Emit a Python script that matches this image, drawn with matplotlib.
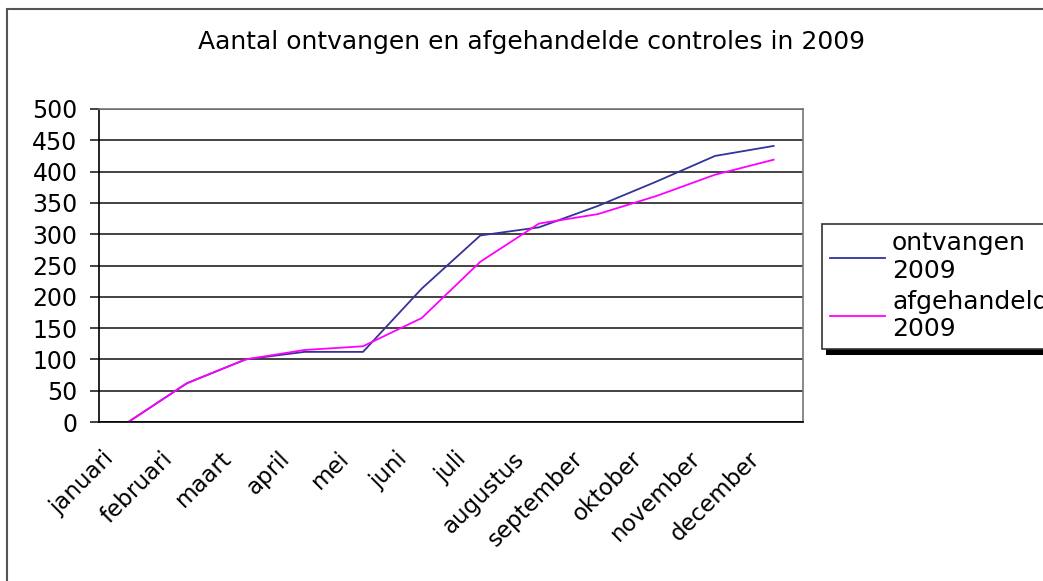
import matplotlib.pyplot as plt
from matplotlib.patches import Rectangle
from matplotlib.transforms import ScaledTranslation

maanden = ['januari', 'februari', 'maart', 'april', 'mei', 'juni', 'juli',
           'augustus', 'september', 'oktober', 'november', 'december']
ontvangen = [0, 62, 100, 112, 112, 213, 298, 311, 345, 384, 425, 441]
afgehandeld = [0, 62, 100, 115, 121, 166, 256, 317, 332, 361, 395, 419]
yticks = [0, 50, 100, 150, 200, 250, 300, 350, 400, 450, 500]

W, H = 1043, 581
fig = plt.figure(figsize=(W / 100, H / 100), dpi=100)
ax = fig.add_axes([99 / W, 1 - 422 / H, (803 - 99) / W, (422 - 109) / H])

x = list(range(len(maanden)))
ax.plot(x, ontvangen, color='#333399', lw=1.3, label='ontvangen\n2009')
ax.plot(x, afgehandeld, color='#ff00ff', lw=1.3, label='afgehandeld\n2009')

ax.set_xlim(-0.5, 11.5)
ax.set_ylim(0, 500)
ax.set_yticks(yticks)
ax.set_xticks(x)
ax.tick_params(axis='y', labelsize=17, length=6.5, width=1.2, color='#222222', pad=9)
ax.tick_params(axis='x', length=0, pad=0)
ax.set_xticklabels(maanden, rotation=45, ha='right', va='top',
                   rotation_mode='anchor', fontsize=16.5)
shift = ScaledTranslation(-26 / 100, -25 / 100, fig.dpi_scale_trans)
for lab in ax.get_xticklabels():
    lab.set_transform(lab.get_transform() + shift)
ax.yaxis.grid(True, color='#222222', lw=1.2)
ax.set_axisbelow(True)
for s in ['left', 'bottom']:
    ax.spines[s].set_color('black')
    ax.spines[s].set_linewidth(1.2)
for s in ['right', 'top']:
    ax.spines[s].set_color('#777777')
    ax.spines[s].set_linewidth(1.2)

fig.text(531 / W, 1 - 42 / H, 'Aantal ontvangen en afgehandelde controles in 2009',
         ha='center', va='center', fontsize=18)

handles, labels = ax.get_legend_handles_labels()
leg = fig.legend(handles, labels, loc='upper left',
                 bbox_to_anchor=(822 / W, 1 - 224 / H), fontsize=18,
                 frameon=True, fancybox=False, edgecolor='#333333',
                 framealpha=1, handlelength=2.2, labelspacing=0.25,
                 borderpad=0.3, handletextpad=0.3, borderaxespad=0)
leg.get_frame().set_linewidth(1.2)
leg.set_zorder(5)

# schaduw onder de legenda
fig.canvas.draw()
bb = leg.get_window_extent()
fig.patches.append(Rectangle((bb.x0 + 4, bb.y0 - 6), bb.width, bb.height,
                             transform=None, facecolor='black',
                             edgecolor='none', zorder=4))

fig.patches.append(Rectangle((7 / W, -0.1), 1.2, 1 - 9 / H + 0.1,
                             transform=fig.transFigure, fill=False,
                             edgecolor='#555555', lw=1.5))

fig.savefig('out.png', dpi=100)
